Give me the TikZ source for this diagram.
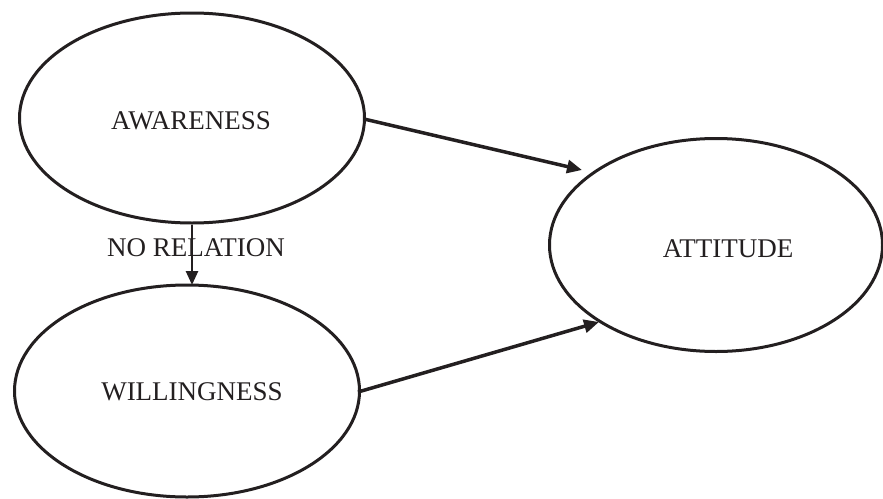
\documentclass[tikz,border=0pt]{standalone}
\usepackage{fontspec}
\setmainfont{Liberation Serif}
\usetikzlibrary{shapes.geometric,arrows.meta}
\definecolor{ink}{HTML}{231F20}
\begin{document}
\begin{tikzpicture}[x=1pt,y=-1pt,
  ell/.style={draw=ink,ellipse,line width=3pt,inner sep=0pt},
  txt/.style={text=ink,inner sep=0pt,font=\fontsize{27}{30}\selectfont},
  arr/.style={draw=ink,line width=3.5pt,-{Triangle[length=15pt,width=13pt]}},
  varr/.style={draw=ink,line width=2.6pt,-{Triangle[length=14pt,width=12pt]}}]
\useasboundingbox (0,0) rectangle (883,498);
\node[ell,minimum width=345pt,minimum height=210pt] (aw) at (192,118) {};
\node[ell,minimum width=345pt,minimum height=212pt] (wi) at (187,391) {};
\node[ell,minimum width=333pt,minimum height=213pt] (at) at (716,245) {};
\node[txt] (awt) at (191,121) {AWARENESS};
\node[txt] (wit) at (192,392) {WILLINGNESS};
\node[txt] (att) at (728,249) {ATTITUDE};
\node[txt] (nr) at (196,248) {NO RELATION};
\coordinate (t1) at (582,170);
\coordinate (t2) at (599,322);
\coordinate (s1) at (364,119);
\coordinate (s2) at (358,392);
\coordinate (v2) at (192,285);
\draw[arr] (s1) -- (t1);
\draw[arr] (s2) -- (t2);
\draw[varr] (aw.south) -- (v2);
\end{tikzpicture}
\end{document}
